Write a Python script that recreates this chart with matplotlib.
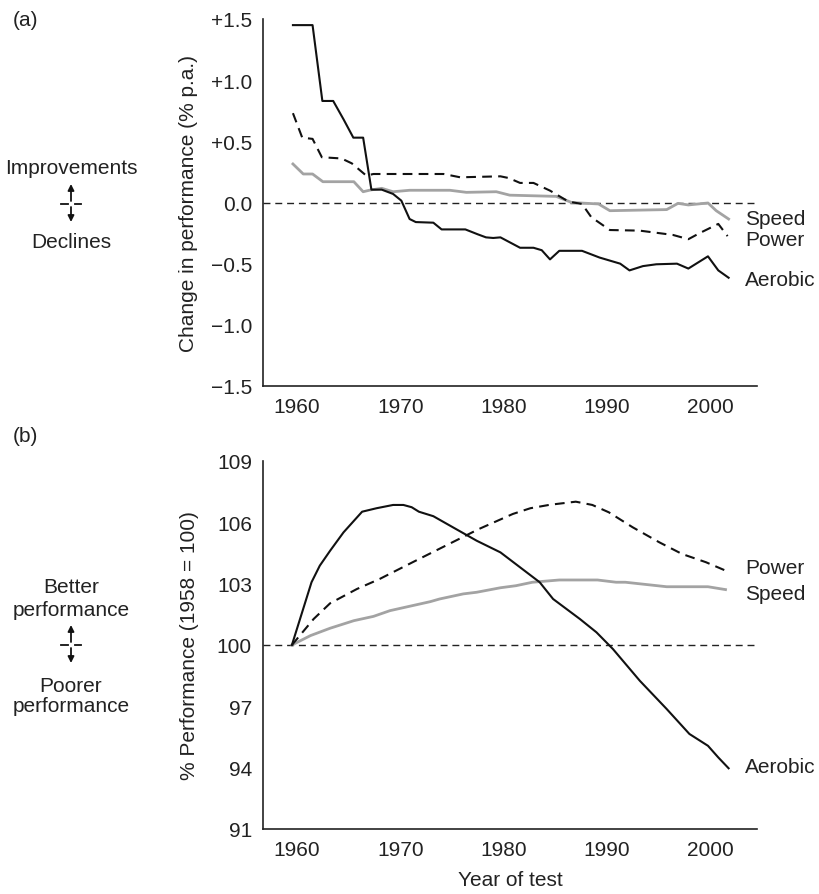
import matplotlib
matplotlib.use("Agg")
import matplotlib.pyplot as plt
from matplotlib.lines import Line2D
from matplotlib.patches import FancyArrowPatch

plt.rcParams['font.family'] = ['Liberation Sans', 'DejaVu Sans']
plt.rcParams['lines.scale_dashes'] = False

# ---------------- data: panel (a) change in performance (% p.a.) -------------
aero_a_years = [1959.6, 1961.5, 1962.45, 1963.5, 1964.5, 1965.45, 1966.4, 1967.2, 1968.2,
                1969.3, 1970.1, 1970.9, 1971.5, 1973.2, 1974.0, 1976.3, 1977.5, 1978.3,
                1979.0, 1979.7, 1981.6, 1982.9, 1983.7, 1984.5, 1985.4, 1987.6, 1989.3,
                1991.3, 1992.2, 1993.5, 1994.8, 1996.8, 1997.9, 1999.8, 2000.8, 2001.8]
aero_a = [1.45, 1.45, 0.83, 0.83, 0.68, 0.53, 0.53, 0.105, 0.105,
          0.07, 0.015, -0.135, -0.16, -0.165, -0.22, -0.22, -0.26, -0.285,
          -0.29, -0.285, -0.37, -0.37, -0.39, -0.465, -0.395, -0.395, -0.45,
          -0.50, -0.555, -0.52, -0.505, -0.50, -0.54, -0.44, -0.555, -0.615]

power_a_years = [1959.6, 1960.5, 1961.5, 1962.4, 1964.3, 1965.3, 1966.7, 1967.4, 1974.2,
                 1975.8, 1979.7, 1980.5, 1981.6, 1982.9, 1984.5, 1986.3, 1987.6, 1988.5,
                 1990.3, 1993.2, 1996.4, 1997.9, 1999.0, 2000.8, 2001.7]
power_a = [0.73, 0.53, 0.52, 0.37, 0.36, 0.32, 0.22, 0.233, 0.233,
           0.206, 0.214, 0.20, 0.16, 0.16, 0.097, 0.007, -0.012, -0.12,
           -0.225, -0.23, -0.265, -0.30, -0.25, -0.175, -0.275]

speed_a_years = [1959.6, 1960.6, 1961.5, 1962.5, 1965.5, 1966.4, 1967.1, 1968.2, 1969.3,
                 1970.9, 1974.8, 1976.4, 1979.3, 1980.6, 1985.1, 1986.6, 1989.2, 1990.3,
                 1995.8, 1996.9, 1997.9, 1999.8, 2000.6, 2001.8]
speed_a = [0.315, 0.233, 0.233, 0.17, 0.17, 0.088, 0.102, 0.116, 0.088,
           0.10, 0.10, 0.083, 0.088, 0.06, 0.05, 0.0, -0.012, -0.067,
           -0.058, -0.007, -0.02, -0.004, -0.067, -0.135]

# ---------------- data: panel (b) % performance (1958 = 100) -------------------
aero_b_years = [1959.5, 1961.4, 1962.2, 1963.2, 1964.5, 1966.3, 1967.7, 1969.3, 1970.3,
                1971.1, 1971.8, 1973.2, 1975.4, 1977.4, 1979.7, 1981.6, 1983.5, 1984.8,
                1987.4, 1989.0, 1990.6, 1993.2, 1995.8, 1998.0, 1999.8, 2000.8, 2001.8]
aero_b = [100.0, 103.07, 103.88, 104.61, 105.51, 106.52, 106.69, 106.85, 106.85,
          106.74, 106.52, 106.30, 105.67, 105.10, 104.53, 103.80, 103.07, 102.25,
          101.27, 100.62, 99.80, 98.25, 96.87, 95.65, 95.07, 94.50, 93.97]

power_b_years = [1959.5, 1961.6, 1963.2, 1965.8, 1968.0, 1971.2, 1974.4, 1977.6, 1980.9,
                 1982.6, 1984.5, 1987.0, 1988.6, 1990.2, 1992.5, 1995.1, 1997.3, 1999.6,
                 2001.5]
power_b = [100.0, 101.27, 102.04, 102.74, 103.23, 104.05, 104.86, 105.67, 106.41,
           106.69, 106.86, 107.01, 106.85, 106.49, 105.76, 105.02, 104.45, 104.05,
           103.64]

speed_b_years = [1959.5, 1961.3, 1963.2, 1965.5, 1967.4, 1969.0, 1972.9, 1973.8, 1976.1,
                 1977.4, 1979.7, 1981.2, 1982.8, 1985.4, 1989.1, 1990.9, 1991.8, 1995.8,
                 1999.8, 2001.5]
speed_b = [100.0, 100.46, 100.82, 101.19, 101.40, 101.68, 102.12, 102.25, 102.50,
           102.58, 102.80, 102.90, 103.07, 103.18, 103.18, 103.07, 103.07, 102.85,
           102.85, 102.71]

x_ticks = [1960, 1970, 1980, 1990, 2000]
a_ticks = [1.5, 1.0, 0.5, 0.0, -0.5, -1.0, -1.5]
a_ticklabels = ['+1.5', '+1.0', '+0.5', '0.0', '\u22120.5', '\u22121.0', '\u22121.5']
b_ticks = [91, 94, 97, 100, 103, 106, 109]
b_ticklabels = ['91', '94', '97', '100', '103', '106', '109']

# ---------------- figure --------------------------------------------------------
W, H = 819, 895
fig = plt.figure(figsize=(W / 100, H / 100), dpi=100)

def fx(x):
    return x / W

def fy(y):
    return 1 - y / H

FS = 15
INK = '#222222'
GRAY = '#a3a3a3'
XLIM = (1956.7, 2004.55)

ax_a = fig.add_axes([fx(263), fy(387), fx(757) - fx(263), fy(20) - fy(387)])
ax_b = fig.add_axes([fx(263), fy(830), fx(757) - fx(263), fy(462) - fy(830)])

for ax in (ax_a, ax_b):
    for s in ('top', 'right'):
        ax.spines[s].set_visible(False)
    for s in ('left', 'bottom'):
        ax.spines[s].set_linewidth(1.2)
        ax.spines[s].set_color(INK)
    ax.tick_params(length=0, labelsize=FS, pad=8, colors=INK)
    ax.set_xlim(*XLIM)
    ax.set_xticks(x_ticks)
    ax.set_xticklabels([str(t) for t in x_ticks])
    ax.set_facecolor('none')

# panel (a)
ax_a.axhline(0, color=INK, lw=1.0, ls=(0, (5, 3.5)), zorder=1)
ax_a.plot(speed_a_years, speed_a, color=GRAY, lw=2.0, zorder=2)
ax_a.plot(power_a_years, power_a, color='#111111', lw=1.5, ls=(0, (7, 4.5)), zorder=3)
ax_a.plot(aero_a_years, aero_a, color='#111111', lw=1.5, zorder=4)
ax_a.set_ylim(-1.5, 1.5)
ax_a.set_yticks(a_ticks)
ax_a.set_yticklabels(a_ticklabels)
ax_a.set_ylabel('Change in performance (% p.a.)', fontsize=FS, labelpad=9, color=INK)

# panel (b)
ax_b.axhline(100, color=INK, lw=1.0, ls=(0, (5, 3.5)), zorder=1)
ax_b.plot(speed_b_years, speed_b, color=GRAY, lw=2.0, zorder=2)
ax_b.plot(power_b_years, power_b, color='#111111', lw=1.5, ls=(0, (7, 4.5)), zorder=3)
ax_b.plot(aero_b_years, aero_b, color='#111111', lw=1.5, zorder=4)
ax_b.set_ylim(91, 109)
ax_b.set_yticks(b_ticks)
ax_b.set_yticklabels(b_ticklabels)
ax_b.set_ylabel('% Performance (1958 = 100)', fontsize=FS, labelpad=13, color=INK)
ax_b.set_xlabel('Year of test', fontsize=FS, labelpad=8, color=INK)

# series labels
def label(text, y):
    fig.text(fx(745), fy(y), text, fontsize=FS, va='center', ha='left', color=INK)

label('Speed', 220)
label('Power', 241)
label('Aerobic', 280)
label('Power', 568)
label('Speed', 595)
label('Aerobic', 768)

# panel letters
fig.text(fx(13), fy(21), '(a)', fontsize=FS, va='center', ha='left', color=INK)
fig.text(fx(13), fy(437), '(b)', fontsize=FS, va='center', ha='left', color=INK)

# direction indicators
def indicator(cy, top_text, bottom_text, top_y, bottom_y):
    cx = 71
    for t, y in zip(top_text, top_y):
        fig.text(fx(cx), fy(y), t, fontsize=FS, va='center', ha='center', color=INK)
    for t, y in zip(bottom_text, bottom_y):
        fig.text(fx(cx), fy(y), t, fontsize=FS, va='center', ha='center', color=INK)
    ap = dict(arrowstyle='-|>', color='#111111', lw=1.3, mutation_scale=9,
              shrinkA=0, shrinkB=0)
    fig.add_artist(FancyArrowPatch((fx(cx), fy(cy - 3)), (fx(cx), fy(cy - 20)),
                                   transform=fig.transFigure, **ap))
    fig.add_artist(FancyArrowPatch((fx(cx), fy(cy + 3)), (fx(cx), fy(cy + 18)),
                                   transform=fig.transFigure, **ap))
    for x0, x1 in ((61, 67.5), (74.5, 81)):
        fig.add_artist(Line2D([fx(x0), fx(x1)], [fy(cy), fy(cy)], transform=fig.transFigure,
                              color='#111111', lw=1.3))

indicator(205, ['Improvements'], ['Declines'], [168], [242])
indicator(646, ['Better', 'performance'], ['Poorer', 'performance'], [588, 611], [687, 707])

fig.savefig('out.png', dpi=100)
